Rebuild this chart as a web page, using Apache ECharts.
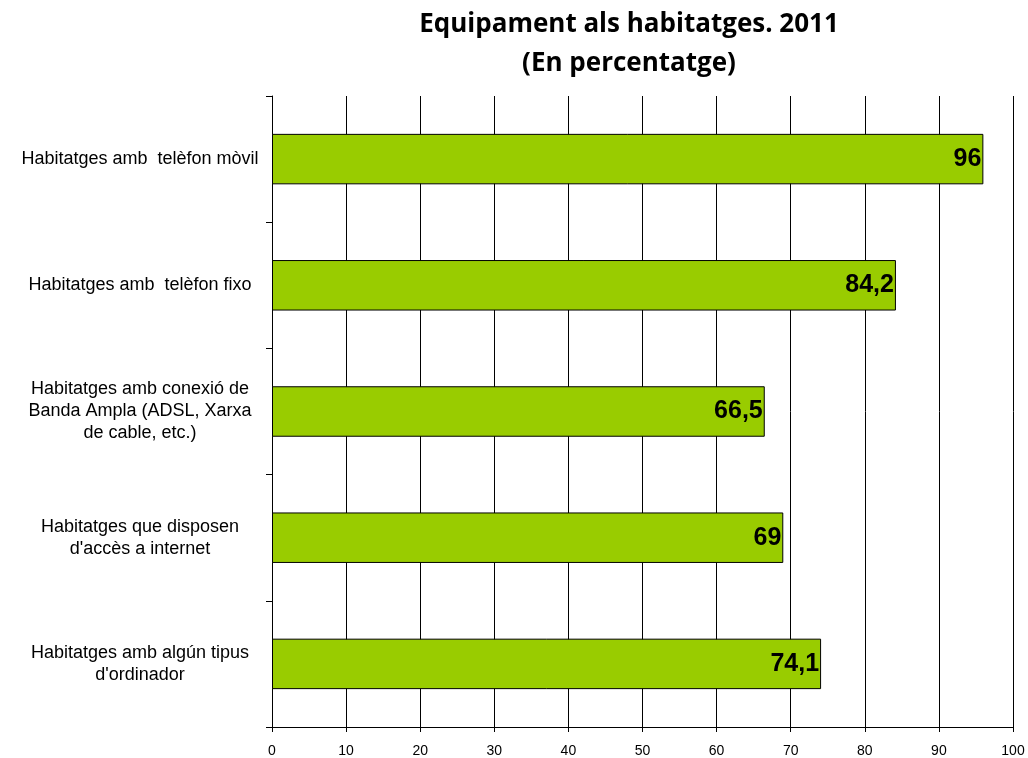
<!DOCTYPE html>
<html>
<head>
<meta charset="utf-8">
<script src="https://cdn.jsdelivr.net/npm/echarts@6/dist/echarts.min.js"></script>
<style>
  html, body { margin: 0; padding: 0; background: #fff; }
  #chart { width: 1028px; height: 758px; }
</style>
</head>
<body>
<div id="chart"></div>
<script>
  // categories from top to bottom
  var categories = [
    'Habitatges amb  telèfon mòvil',
    'Habitatges amb  telèfon fixo',
    'Habitatges amb conexió de\nBanda Ampla (ADSL, Xarxa\nde cable, etc.)',
    'Habitatges que disposen\nd\'accès a internet',
    'Habitatges amb algún tipus\nd\'ordinador'
  ];
  var values = [96, 84.2, 66.5, 69, 74.1];
  var xTicks = [0, 10, 20, 30, 40, 50, 60, 70, 80, 90, 100];

  var chart = echarts.init(document.getElementById('chart'));
  chart.setOption({
    backgroundColor: '#fff',
    animation: false,
    title: {
      text: 'Equipament als habitatges. 2011\n(En percentatge)',
      left: 624,
      top: 0,
      textAlign: 'center',
      textStyle: {
        fontFamily: 'Open Sans',
        fontWeight: 'bold',
        fontSize: 26,
        lineHeight: 39,
        color: '#000'
      }
    },
    grid: {
      left: 272,
      right: 15,
      top: 96,
      bottom: 30
    },
    xAxis: {
      type: 'value',
      min: xTicks[0],
      max: xTicks[xTicks.length - 1],
      interval: 10,
      axisLine: { show: true, lineStyle: { color: '#000', width: 1 } },
      axisTick: { show: true, length: 5, lineStyle: { color: '#000' } },
      axisLabel: {
        margin: 17,
        color: '#000',
        fontFamily: 'Liberation Sans',
        fontSize: 14
      },
      splitLine: { show: true, lineStyle: { color: '#000', width: 1 } }
    },
    yAxis: {
      type: 'category',
      data: categories,
      inverse: true,
      axisLine: { show: true, lineStyle: { color: '#000', width: 1 } },
      axisTick: { show: true, length: 6, lineStyle: { color: '#000' } },
      axisLabel: {
        align: 'center',
        margin: 132,
        color: '#000',
        fontFamily: 'Liberation Sans',
        fontSize: 18,
        lineHeight: 22
      }
    },
    series: [{
      type: 'bar',
      data: values,
      barCategoryGap: '60%',
      itemStyle: {
        color: '#99CC00',
        borderColor: '#000',
        borderWidth: 1
      },
      label: {
        show: true,
        position: 'insideRight',
        distance: 2,
        color: '#000',
        fontFamily: 'Liberation Sans',
        fontWeight: 'bold',
        fontSize: 25,
        formatter: function (p) {
          return String(p.value).replace('.', ',');
        }
      }
    }]
  });
</script>
</body>
</html>
